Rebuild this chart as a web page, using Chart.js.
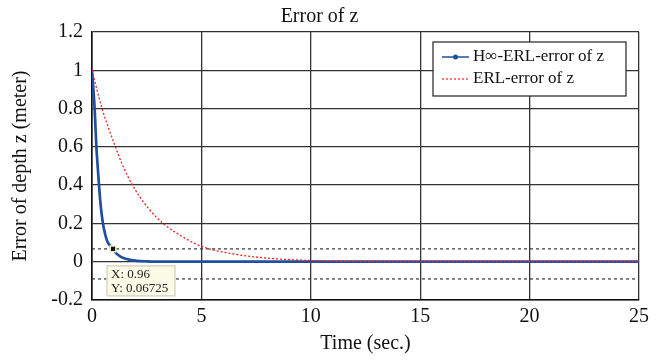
<!DOCTYPE html>
<html>
<head>
<meta charset="utf-8">
<script src="https://cdn.jsdelivr.net/npm/chart.js@4.4.1/dist/chart.umd.min.js"></script>
<style>
  html, body { margin: 0; padding: 0; background: #fff; }
</style>
</head>
<body>
<canvas id="errChart" width="664" height="360"></canvas>
<script>
// H-infinity ERL error of z
const hTime = [0, 0.12, 0.2, 0.24, 0.32, 0.4, 0.5, 0.6, 0.7, 0.8, 0.96, 1.1, 1.34, 1.8, 2.5, 4, 25];
const hErr  = [1.0, 0.80, 0.60, 0.53, 0.40, 0.29, 0.20, 0.145, 0.105, 0.088, 0.067, 0.045, 0.024, 0.008, 0.002, 0, 0];

// plain ERL error of z
const erlTime = [0, 0.46, 1.07, 1.34, 1.85, 2.5, 3.25, 4.0, 5.0, 6.3, 7.8, 9.4, 11, 13, 25];
const erlErr  = [1.0, 0.80, 0.60, 0.52, 0.40, 0.29, 0.20, 0.14, 0.08, 0.044, 0.021, 0.009, 0.003, 0.001, 0];

// dotted reference levels and the data tip
const refLevels = [0.067, -0.09];
const tipTime = [0.96];
const tipErr = [0.06725];

const serif = 'Liberation Serif';

function toPoints(xs, ys) {
    return xs.map((x, i) => ({ x: x, y: ys[i] }));
}

// MATLAB style tick text: 1, 0.8, 0, -0.2
function tickText(v) {
    const r = Math.round(v * 10) / 10;
    return String(Math.abs(r) < 1e-9 ? 0 : r);
}

const datasets = [
    {
        label: 'ERL-error of z',
        data: toPoints(erlTime, erlErr),
        borderColor: '#f02020',
        borderWidth: 1.3,
        borderDash: [2, 2],
        pointRadius: 0,
        cubicInterpolationMode: 'monotone',
        inLegend: true,
        order: 1
    },
    {
        label: 'H\u221E-ERL-error of z',
        data: toPoints(hTime, hErr),
        borderColor: '#1f4f9f',
        borderWidth: 2.7,
        pointRadius: 0,
        cubicInterpolationMode: 'monotone',
        inLegend: true,
        legendMarker: true,
        order: 2
    },
    {
        label: 'tip',
        data: toPoints(tipTime, tipErr),
        showLine: false,
        pointStyle: 'rect',
        pointRadius: 4,
        backgroundColor: '#111',
        borderColor: '#eeeec0',
        borderWidth: 1.5,
        order: 0
    }
];

refLevels.forEach(v => {
    datasets.push({
        label: 'ref',
        data: [{ x: 0, y: v }, { x: 25, y: v }],
        borderColor: '#333',
        borderWidth: 1.2,
        borderDash: [3, 3],
        pointRadius: 0,
        order: 3
    });
});

// legend drawn as a framed box inside the plot, like the original
const boxLegend = {
    id: 'boxLegend',
    afterDraw(chart) {
        const ctx = chart.ctx;
        const area = chart.chartArea;
        const items = chart.data.datasets.filter(d => d.inLegend).reverse();
        const x0 = area.right - 206, y0 = area.top + 10, w = 193, h = 54;
        ctx.save();
        ctx.fillStyle = '#fff';
        ctx.fillRect(x0, y0, w, h);
        ctx.strokeStyle = '#222';
        ctx.lineWidth = 1.2;
        ctx.strokeRect(x0, y0, w, h);
        ctx.font = '17px "' + serif + '"';
        ctx.textBaseline = 'middle';
        items.forEach((d, i) => {
            const cy = y0 + 15 + i * 22;
            ctx.strokeStyle = d.borderColor;
            ctx.lineWidth = d.legendMarker ? 1.5 : 1.2;
            ctx.setLineDash(d.borderDash || []);
            ctx.beginPath();
            ctx.moveTo(x0 + 9, cy);
            ctx.lineTo(x0 + 36, cy);
            ctx.stroke();
            ctx.setLineDash([]);
            if (d.legendMarker) {
                ctx.fillStyle = d.borderColor;
                ctx.beginPath();
                ctx.arc(x0 + 22.5, cy, 2.5, 0, Math.PI * 2);
                ctx.fill();
            }
            ctx.fillStyle = '#111';
            ctx.fillText(d.label, x0 + 40, cy);
        });
        ctx.restore();
    }
};

// MATLAB-style data tip box under the marked point
const dataTip = {
    id: 'dataTip',
    afterDraw(chart) {
        const ctx = chart.ctx;
        const px = chart.scales.x.getPixelForValue(tipTime[0]);
        const py = chart.scales.y.getPixelForValue(tipErr[0]);
        const bx = px - 6, by = py + 17;
        ctx.save();
        ctx.fillStyle = '#fafae6';
        ctx.fillRect(bx, by, 68, 30);
        ctx.strokeStyle = '#d8d8c8';
        ctx.lineWidth = 1.5;
        ctx.strokeRect(bx, by, 68, 30);
        ctx.fillStyle = '#222';
        ctx.font = '13px "' + serif + '"';
        ctx.textBaseline = 'middle';
        ctx.fillText('X: ' + tipTime[0], bx + 4, by + 9);
        ctx.fillText('Y: ' + tipErr[0], bx + 4, by + 23);
        ctx.restore();
    }
};

new Chart(document.getElementById('errChart'), {
    type: 'line',
    data: { datasets: datasets },
    options: {
        responsive: false,
        animation: false,
        layout: { padding: { left: 0, right: 25, top: 0, bottom: 0 } },
        plugins: {
            legend: { display: false },
            tooltip: { enabled: false },
            title: {
                display: true,
                text: 'Error of z',
                color: '#111',
                font: { family: serif, size: 20, weight: 'normal' },
                padding: { top: 5, bottom: 3 }
            }
        },
        scales: {
            x: {
                type: 'linear',
                min: 0,
                max: 25,
                ticks: {
                    stepSize: 5,
                    color: '#111',
                    padding: 5,
                    font: { family: serif, size: 20 }
                },
                grid: { color: '#333', lineWidth: 1.3, drawTicks: false },
                border: { color: '#111', width: 1.6 },
                title: {
                    display: true,
                    text: 'Time (sec.)',
                    color: '#111',
                    font: { family: serif, size: 20 },
                    padding: { top: 0, bottom: 4 }
                },
                afterFit: s => { s.height = 60; }
            },
            y: {
                min: -0.2,
                max: 1.2,
                ticks: {
                    stepSize: 0.2,
                    color: '#111',
                    padding: 9,
                    font: { family: serif, size: 20 },
                    callback: v => tickText(v)
                },
                grid: { color: '#333', lineWidth: 1.3, drawTicks: false },
                border: { color: '#111', width: 1.6 },
                title: {
                    display: true,
                    text: 'Error of depth z (meter)',
                    color: '#111',
                    font: { family: serif, size: 20 },
                    padding: { top: 9, bottom: 0 }
                },
                afterFit: s => { s.width = 92; }
            }
        }
    },
    plugins: [boxLegend, dataTip]
});
</script>
</body>
</html>
